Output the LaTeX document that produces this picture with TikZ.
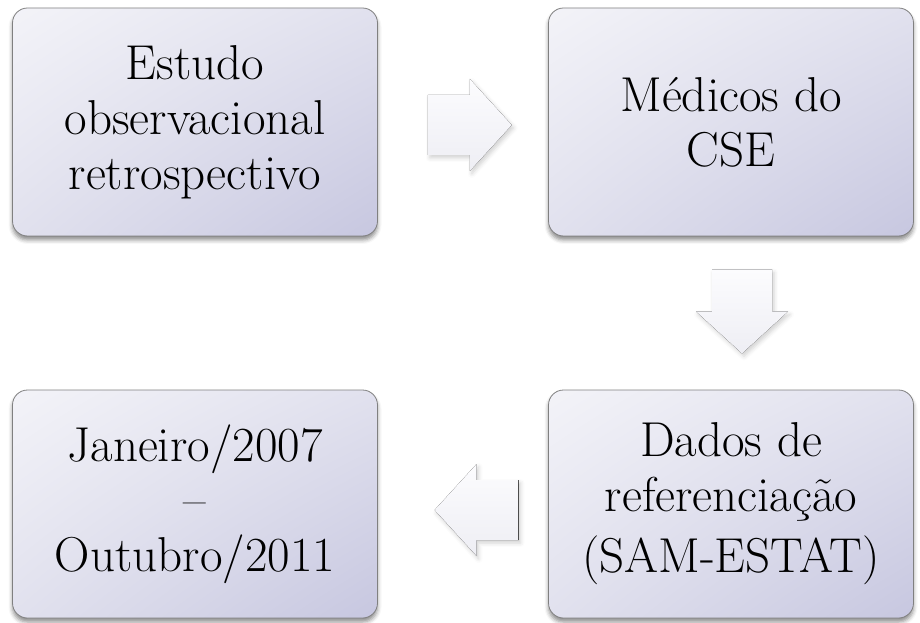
\documentclass[tikz,border=0pt]{standalone}
\usetikzlibrary{calc,shadings,shadows.blur}

\definecolor{stagelight}{RGB}{243,243,248}
\definecolor{stagemid}{RGB}{225,225,238}
\definecolor{stagedark}{RGB}{199,199,224}
\definecolor{stageline}{RGB}{128,128,128}
\definecolor{arrowlight}{RGB}{252,252,254}
\definecolor{arrowdark}{RGB}{238,238,244}

\newcommand\stagefont{\fontsize{49}{55}\selectfont}
\newcommand\stagewidth{365pt}
\newcommand\stageheight{228pt}
% block arrow: #1 centre, #2 angle
\newcommand\flowarrow[2]{
  \begin{scope}[shift={(#1)}, rotate=#2]
    \fill[arrowstyle] (-42, -30) -- (0, -30) -- (0, -46) -- (42, 0) -- (0, 46) -- (0, 30) -- (-42, 30) -- cycle ;
  \end{scope}
}

\tikzset{
  stage/.style={rectangle, rounded corners=15pt, draw=stageline, line width=0.8pt,
    minimum width=\stagewidth, minimum height=\stageheight, align=center, font=\stagefont,
    upper left=stagelight, upper right=stagemid, lower left=stagemid, lower right=stagedark,
    blur shadow={shadow xshift=0pt, shadow yshift=-4pt, shadow blur radius=4pt, shadow opacity=45}},
  arrowstyle/.style={top color=arrowlight, bottom color=arrowdark,
    blur shadow={shadow xshift=2pt, shadow yshift=-3pt, shadow blur radius=4pt, shadow opacity=18}}
}

\begin{document}
\begin{tikzpicture}[x=1pt, y=1pt]
  \useasboundingbox (0, 0) rectangle (920, 622) ;
  \node[stage] (estudo) at (195, 500) {Estudo\\observacional\\retrospectivo} ;
  \node[stage] (medicos) at (731, 500) {Médicos do\\CSE} ;
  \node[stage] (dados) at (731, 118) {Dados de\\referenciação\\[6pt](SAM-ESTAT)} ;
  \node[stage] (periodo) at (195, 118) {Janeiro/2007\\--\\Outubro/2011} ;
  \flowarrow{$(estudo.east)!.54!(medicos.west) + (0, -3)$}{0}
  \flowarrow{$(medicos.south)!.49!(dados.north) + (11, 0)$}{-90}
  \flowarrow{$(dados.west)!.42!(periodo.east) + (0, -6)$}{180}
\end{tikzpicture}
\end{document}
